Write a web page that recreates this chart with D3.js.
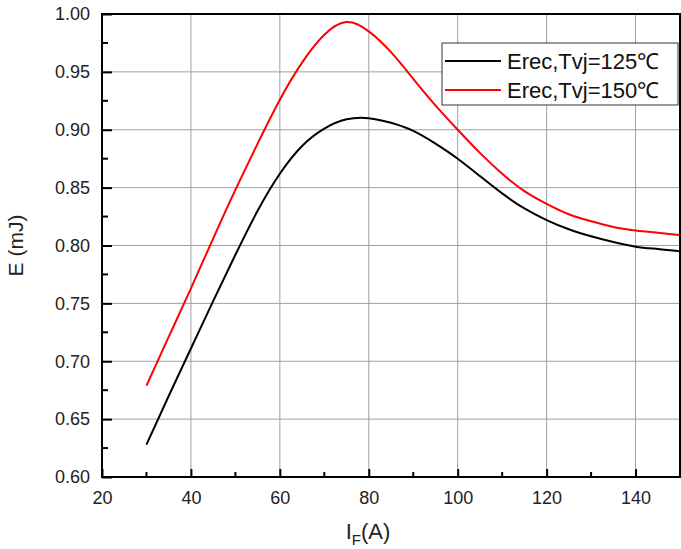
<!DOCTYPE html>
<html>
<head>
<meta charset="utf-8">
<script src="https://cdn.jsdelivr.net/npm/d3@7"></script>
<style>
  body { margin: 0; background: #fff; }
  svg { font-family: "Liberation Sans", Arial, sans-serif; }
</style>
</head>
<body>
<div id="container"></div>
<script>
/* CONSTANTS AND GLOBALS */
const width = 681,
  height = 549,
  margin = {top: 14, left: 102, bottom: 72, right: 1};

/* DATA */
const current = [30, 35, 40, 45, 50, 55, 60, 65, 70, 75, 80, 85, 90, 95, 100, 105, 110, 115, 120, 125, 130, 135, 140, 145, 150];
const erec125 = [0.628, 0.670, 0.711, 0.752, 0.792, 0.830, 0.862, 0.886, 0.901, 0.909, 0.910, 0.906, 0.899, 0.888, 0.875, 0.860, 0.845, 0.832, 0.822, 0.814, 0.808, 0.803, 0.799, 0.797, 0.795];
const erec150 = [0.679, 0.721, 0.763, 0.806, 0.848, 0.888, 0.926, 0.958, 0.982, 0.993, 0.985, 0.967, 0.944, 0.921, 0.900, 0.880, 0.862, 0.847, 0.836, 0.827, 0.821, 0.816, 0.813, 0.811, 0.809];
const seriesNames = ["Erec,Tvj=125\u2103", "Erec,Tvj=150\u2103"];
const seriesColors = ["#000000", "#ff0000"];
const xTicks = [20, 40, 60, 80, 100, 120, 140];
const yTicks = [0.60, 0.65, 0.70, 0.75, 0.80, 0.85, 0.90, 0.95, 1.00];

const series = [erec125, erec150].map((vals, i) => ({
  name: seriesNames[i],
  color: seriesColors[i],
  values: current.map((c, j) => ({x: c, y: vals[j]}))
}));

// SCALES
const xScale = d3.scaleLinear()
  .domain([20, 150])
  .range([margin.left, width - margin.right]);

const yScale = d3.scaleLinear()
  .domain([0.60, 1.00])
  .range([height - margin.bottom, margin.top]);

// CREATE SVG ELEMENT
const svg = d3.select("#container")
  .append("svg")
  .attr("width", width)
  .attr("height", height);

// GRID
svg.append("g")
  .selectAll("line")
  .data(xTicks.slice(1))
  .join("line")
  .attr("x1", d => xScale(d)).attr("x2", d => xScale(d))
  .attr("y1", margin.top).attr("y2", height - margin.bottom)
  .attr("stroke", "#a0a0a0").attr("stroke-width", 1);

svg.append("g")
  .selectAll("line")
  .data(yTicks.slice(1))
  .join("line")
  .attr("x1", margin.left).attr("x2", width - margin.right)
  .attr("y1", d => yScale(d)).attr("y2", d => yScale(d))
  .attr("stroke", "#a0a0a0").attr("stroke-width", 1);

// LINES
const lineGen = d3.line()
  .x(d => xScale(d.x))
  .y(d => yScale(d.y))
  .curve(d3.curveNatural);

svg.selectAll(".line")
  .data(series)
  .join("path")
  .attr("class", "line")
  .attr("d", d => lineGen(d.values))
  .attr("stroke", d => d.color)
  .attr("stroke-width", 2)
  .attr("fill", "none");

// AXES (ticks pointing inward)
const xMinor = d3.range(30, 150, 20);
const yMinor = d3.range(0.625, 1.0, 0.05);

const xAxis = d3.axisBottom(xScale)
  .tickValues(xTicks)
  .tickFormat(d3.format("d"))
  .tickSize(-8)
  .tickPadding(14);

const yAxis = d3.axisLeft(yScale)
  .tickValues(yTicks)
  .tickFormat(d3.format(".2f"))
  .tickSize(-10)
  .tickPadding(12);

const gx = svg.append("g")
  .attr("transform", `translate(0, ${height - margin.bottom})`)
  .call(xAxis);

const gy = svg.append("g")
  .attr("transform", `translate(${margin.left}, 0)`)
  .call(yAxis);

[gx, gy].forEach(g => {
  g.select(".domain").remove();
  g.selectAll(".tick line").attr("stroke", "#000").attr("stroke-width", 2);
  g.selectAll(".tick text")
    .attr("fill", "#222")
    .style("font-size", "18px")
    .style("font-family", "'Liberation Sans', Arial, sans-serif");
});

svg.append("g")
  .selectAll("line")
  .data(xMinor)
  .join("line")
  .attr("x1", d => xScale(d)).attr("x2", d => xScale(d))
  .attr("y1", height - margin.bottom).attr("y2", height - margin.bottom - 5)
  .attr("stroke", "#000").attr("stroke-width", 2);

svg.append("g")
  .selectAll("line")
  .data(yMinor)
  .join("line")
  .attr("x1", margin.left).attr("x2", margin.left + 6)
  .attr("y1", d => yScale(d)).attr("y2", d => yScale(d))
  .attr("stroke", "#000").attr("stroke-width", 2);

// FRAME
svg.append("rect")
  .attr("x", margin.left)
  .attr("y", margin.top)
  .attr("width", width - margin.right - margin.left)
  .attr("height", height - margin.bottom - margin.top)
  .attr("fill", "none")
  .attr("stroke", "#000")
  .attr("stroke-width", 2);

// AXIS TITLES
svg.append("text")
  .attr("transform", `translate(23, ${(margin.top + height - margin.bottom) / 2}) rotate(-90)`)
  .attr("text-anchor", "middle")
  .style("font-size", "21px")
  .attr("fill", "#222")
  .text("E (mJ)");

const xt = svg.append("text")
  .attr("x", 368)
  .attr("y", 539)
  .attr("text-anchor", "middle")
  .style("font-size", "22px")
  .attr("fill", "#222");
xt.append("tspan").text("I");
xt.append("tspan").attr("dy", 6).style("font-size", "15px").text("F");
xt.append("tspan").attr("dy", -6).text("(A)");

// LEGEND
const legend = svg.append("g").attr("transform", "translate(442, 43)");
legend.append("rect")
  .attr("width", 236).attr("height", 62)
  .attr("fill", "#fff")
  .attr("stroke", "#333").attr("stroke-width", 1);

const items = legend.selectAll(".item")
  .data(series)
  .join("g")
  .attr("class", "item")
  .attr("transform", (d, i) => `translate(0, ${18 + i * 29})`);

items.append("line")
  .attr("x1", 3).attr("x2", 59)
  .attr("stroke", d => d.color).attr("stroke-width", 2);

items.append("text")
  .attr("x", 65)
  .attr("y", 8)
  .style("font-size", "22px")
  .attr("fill", "#111")
  .text(d => d.name);
</script>
</body>
</html>
